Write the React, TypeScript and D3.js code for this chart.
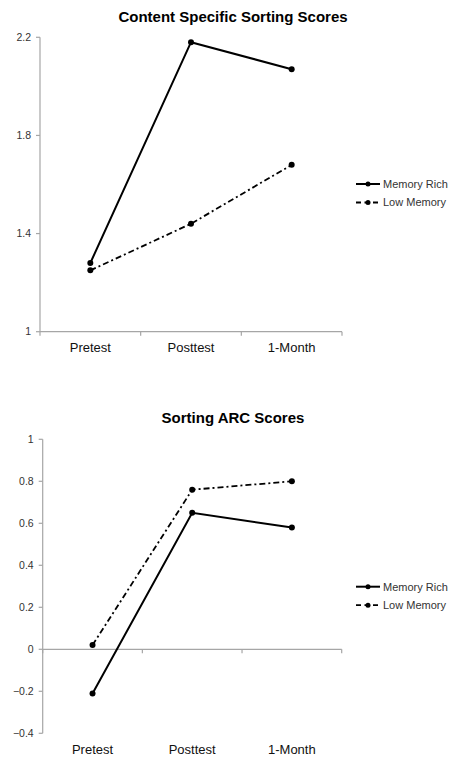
import React from "react";
import * as d3 from "d3";

const categories = ["Pretest", "Posttest", "1-Month"];
const seriesNames = ["Memory Rich", "Low Memory"];

const contentRich = [1.28, 2.18, 2.07];
const contentLow = [1.25, 1.44, 1.68];
const contentTicks = [1, 1.4, 1.8, 2.2];

const arcRich = [-0.21, 0.65, 0.58];
const arcLow = [0.02, 0.76, 0.8];
const arcTicks = [-0.4, -0.2, 0, 0.2, 0.4, 0.6, 0.8, 1];

const FONT = "'Liberation Sans', Arial, sans-serif";
const AXIS = "#a6a6a6";
const TEXT = "#333";
const DASH = "6,3,2,3";

interface PanelProps {
  top: number;
  title: string;
  titleY: number;
  x0: number;
  x1: number;
  yTop: number;
  yBottom: number;
  domain: [number, number];
  ticks: number[];
  baseline: number;
  rich: number[];
  low: number[];
  catY: number;
  legendY: number;
  tickFmt: (v: number) => string;
}

function Panel(p: PanelProps) {
  const x = d3.scalePoint<string>().domain(categories).range([p.x0, p.x1]).padding(0.5);
  const y = d3.scaleLinear().domain(p.domain).range([p.yBottom, p.yTop]);
  const band = (p.x1 - p.x0) / categories.length;
  const line = d3
    .line<number>()
    .x((_, i) => x(categories[i]) as number)
    .y((d) => y(d));
  const by = y(p.baseline);
  const series = [
    { name: seriesNames[0], vals: p.rich, dash: undefined as string | undefined, w: 2 },
    { name: seriesNames[1], vals: p.low, dash: DASH, w: 1.8 },
  ];
  return (
    <g>
      <text x={233} y={p.titleY} textAnchor="middle" fontFamily={FONT} fontWeight="bold" fontSize={15} fill="#000">
        {p.title}
      </text>
      {/* y axis */}
      <line x1={p.x0} x2={p.x0} y1={p.yTop} y2={p.yBottom} stroke={AXIS} strokeWidth={1.2} />
      {p.ticks.map((t) => (
        <g key={t}>
          <line x1={p.x0 - 4} x2={p.x0} y1={y(t)} y2={y(t)} stroke={AXIS} strokeWidth={1.2} />
          <text x={p.x0 - 9} y={y(t)} dy="0.35em" textAnchor="end" fontFamily={FONT} fontSize={10.5} fill={TEXT}>
            {p.tickFmt(t)}
          </text>
        </g>
      ))}
      {/* x axis */}
      <line x1={p.x0} x2={p.x1} y1={by} y2={by} stroke={AXIS} strokeWidth={1.2} />
      {d3.range(categories.length + 1).map((i) => (
        <line key={i} x1={p.x0 + band * i} x2={p.x0 + band * i} y1={by} y2={by + 4} stroke={AXIS} strokeWidth={1.2} />
      ))}
      {categories.map((c) => (
        <text key={c} x={x(c)} y={p.catY} textAnchor="middle" fontFamily={FONT} fontSize={13} fill="#111">
          {c}
        </text>
      ))}
      {/* series */}
      {series.map((s) => (
        <g key={s.name}>
          <path d={line(s.vals) || ""} fill="none" stroke="#000" strokeWidth={s.w} strokeDasharray={s.dash} />
          {s.vals.map((v, i) => (
            <circle key={i} cx={x(categories[i])} cy={y(v)} r={3} fill="#000" />
          ))}
        </g>
      ))}
      {/* legend */}
      {series.map((s, i) => {
        const ly = p.legendY + i * 18.5;
        return (
          <g key={s.name}>
            <line x1={356} x2={380} y1={ly} y2={ly} stroke="#000" strokeWidth={s.w} strokeDasharray={s.dash ? "5,3.5" : undefined} />
            <circle cx={368} cy={ly} r={2.5} fill="#000" />
            <text x={383} y={ly} dy="0.35em" fontFamily={FONT} fontSize={11} fill={TEXT}>
              {s.name}
            </text>
          </g>
        );
      })}
    </g>
  );
}

export default function App() {
  React.useEffect(() => {
    document.body.style.margin = "0";
  }, []);
  return (
    <svg width={450} height={762} style={{ display: "block", background: "#fff" }}>
      <Panel
        top={0}
        title="Content Specific Sorting Scores"
        titleY={22}
        x0={40}
        x1={342}
        yTop={37.3}
        yBottom={331.7}
        domain={[1, 2.2]}
        ticks={contentTicks}
        baseline={1}
        rich={contentRich}
        low={contentLow}
        catY={352}
        legendY={184}
        tickFmt={(v) => d3.format("~g")(v)}
      />
      <Panel
        top={390}
        title="Sorting ARC Scores"
        titleY={423}
        x0={42.7}
        x1={341.7}
        yTop={439.3}
        yBottom={733.3}
        domain={[-0.4, 1]}
        ticks={arcTicks}
        baseline={0}
        rich={arcRich}
        low={arcLow}
        catY={754}
        legendY={586.7}
        tickFmt={(v) => d3.format("~g")(v)}
      />
    </svg>
  );
}
